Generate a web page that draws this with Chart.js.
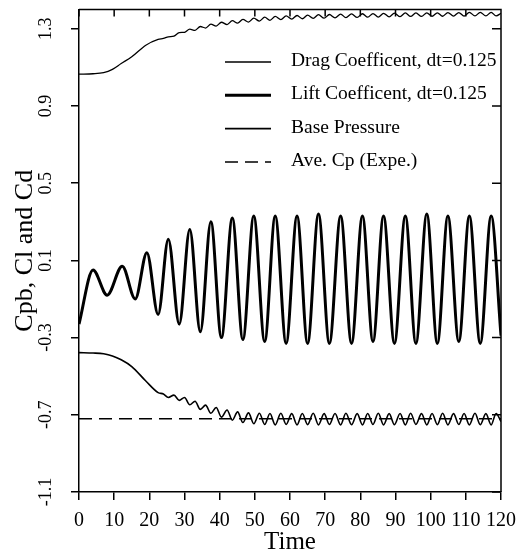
<!DOCTYPE html>
<html>
<head>
<meta charset="utf-8">
<title>Cpb, Cl and Cd</title>
<script src="https://cdn.jsdelivr.net/npm/chart.js@4.4.1/dist/chart.umd.min.js"></script>
<style>
    body { margin: 0; background: #fff; }
    #wrap { width: 525px; height: 555px; position: relative; }
</style>
</head>
<body>
<div id="wrap"><canvas id="forceChart"></canvas></div>
<script>
// ===== DATA =====
var seriesNames = ['Drag Coefficent, dt=0.125', 'Lift Coefficent, dt=0.125', 'Base Pressure', 'Ave. Cp (Expe.)'];

var xTickValues = [0, 10, 20, 30, 40, 50, 60, 70, 80, 90, 100, 110, 120];
var yTickValues = [-1.1, -0.7, -0.3, 0.1, 0.5, 0.9, 1.3];

// time samples used for drag + base pressure (extrema of the small wiggles)
var fineTime = [0, 4, 7, 9.5, 12, 15, 19, 22.5,
    24, 25.4, 27, 28.5, 30, 31.5, 33, 34.5, 36, 37.5,
    39, 40.5, 42.1, 43.6, 45.1, 46.6, 48.2, 49.7, 51.3, 52.8,
    54.3, 55.8, 57.4, 58.9, 60.5, 62.0, 63.5, 65.0, 66.6, 68.1,
    69.7, 71.2, 72.8, 74.4, 75.9, 77.5, 79.1, 80.6, 82.1, 83.6,
    85.1, 86.6, 88.2, 89.7, 91.3, 92.8, 94.3, 95.8, 97.4, 98.9,
    100.4, 101.9, 103.4, 104.9, 106.5, 108.0, 109.5, 111.0, 112.6, 114.1,
    115.7, 117.2, 118.6, 120];

var dragValue = [1.065, 1.067, 1.073, 1.09, 1.12, 1.155, 1.215, 1.245,
    1.250, 1.258, 1.262, 1.280, 1.282, 1.298, 1.292, 1.312, 1.304, 1.324,
    1.314, 1.334, 1.322, 1.342, 1.329, 1.349, 1.335, 1.355, 1.340, 1.360,
    1.344, 1.364, 1.348, 1.367, 1.350, 1.369, 1.352, 1.371, 1.354, 1.373,
    1.355, 1.374, 1.357, 1.376, 1.358, 1.377, 1.359, 1.378, 1.360, 1.379,
    1.361, 1.380, 1.362, 1.381, 1.363, 1.382, 1.364, 1.382, 1.364, 1.383,
    1.365, 1.383, 1.365, 1.384, 1.366, 1.384, 1.366, 1.385, 1.367, 1.385,
    1.367, 1.385, 1.367, 1.380];

var baseValue = [-0.378, -0.380, -0.384, -0.395, -0.415, -0.450, -0.525, -0.585,
    -0.592, -0.610, -0.598, -0.625, -0.610, -0.648, -0.630, -0.672, -0.650, -0.692,
    -0.662, -0.712, -0.675, -0.728, -0.685, -0.740, -0.690, -0.746, -0.692, -0.750,
    -0.693, -0.752, -0.692, -0.750, -0.694, -0.752, -0.693, -0.751, -0.692, -0.752,
    -0.694, -0.750, -0.693, -0.752, -0.692, -0.751, -0.694, -0.752, -0.693, -0.750,
    -0.692, -0.752, -0.694, -0.751, -0.693, -0.752, -0.692, -0.750, -0.694, -0.752,
    -0.693, -0.751, -0.692, -0.752, -0.694, -0.750, -0.693, -0.752, -0.692, -0.751,
    -0.694, -0.752, -0.693, -0.735];

// lift coefficient: peaks and troughs
var liftTime = [0, 4, 8, 12.3, 16, 19.3, 22.5, 25.4, 28.5, 31.5, 34.5, 37.5,
    40.5, 43.6, 46.6, 49.7, 52.8, 55.8, 58.9, 62.0, 65.0, 68.1, 71.2, 74.4,
    77.5, 80.6, 83.6, 86.6, 89.7, 92.8, 95.8, 98.9, 101.9, 104.9, 108.0, 111.0,
    114.1, 117.2, 120];
var liftValue = [-0.23, 0.05, -0.08, 0.07, -0.10, 0.14, -0.18, 0.21, -0.23, 0.26, -0.27, 0.30,
    -0.30, 0.32, -0.31, 0.33, -0.32, 0.33, -0.33, 0.33, -0.33, 0.34, -0.33, 0.33,
    -0.33, 0.33, -0.32, 0.33, -0.33, 0.33, -0.33, 0.34, -0.33, 0.33, -0.32, 0.33,
    -0.33, 0.33, -0.29];

// experimental average base pressure
var aveTime = [0, 120];
var aveValue = [-0.72, -0.72];

var SERIF = '"Liberation Serif", "Times New Roman", serif';

function toPoints(xs, ys) {
    var pts = [];
    for (var i = 0; i < xs.length; i++) {
        pts.push({ x: xs[i], y: ys[i] });
    }
    return pts;
}

// ===== PLUGIN: top/right frame, inward ticks, rotated y labels =====
var framePlugin = {
    id: 'frame',
    afterDraw: function(chart) {
        var ctx = chart.ctx;
        var a = chart.chartArea;
        var xs = chart.scales.x;
        var ys = chart.scales.y;
        ctx.save();
        ctx.strokeStyle = '#000';
        ctx.lineWidth = 1.5;
        ctx.beginPath();
        ctx.moveTo(a.left, a.top);
        ctx.lineTo(a.right, a.top);
        ctx.lineTo(a.right, a.bottom);
        for (var i = 0; i < xTickValues.length; i++) {
            var px = xs.getPixelForValue(xTickValues[i]);
            ctx.moveTo(px, a.top);
            ctx.lineTo(px, a.top + 7);
        }
        for (var j = 0; j < yTickValues.length; j++) {
            var py = ys.getPixelForValue(yTickValues[j]);
            ctx.moveTo(a.right, py);
            ctx.lineTo(a.right - 9, py);
        }
        ctx.stroke();

        ctx.fillStyle = '#000';
        ctx.font = '18px ' + SERIF;
        ctx.textAlign = 'center';
        ctx.textBaseline = 'middle';
        for (var k = 0; k < yTickValues.length; k++) {
            ctx.save();
            ctx.translate(46, ys.getPixelForValue(yTickValues[k]));
            ctx.rotate(-Math.PI / 2);
            ctx.fillText(yTickValues[k].toFixed(1), 0, 0);
            ctx.restore();
        }
        ctx.restore();
    }
};

// ===== PLUGIN: legend inside the plot =====
var legendPlugin = {
    id: 'insideLegend',
    afterDraw: function(chart) {
        var ctx = chart.ctx;
        ctx.save();
        ctx.font = '19.5px ' + SERIF;
        ctx.fillStyle = '#000';
        ctx.textAlign = 'left';
        ctx.textBaseline = 'middle';
        for (var i = 0; i < seriesNames.length; i++) {
            var ds = chart.data.datasets[i];
            var rowY = 62 + i * 33.3;
            ctx.strokeStyle = '#000';
            ctx.lineWidth = ds.borderWidth;
            ctx.setLineDash(ds.borderDash || []);
            ctx.beginPath();
            ctx.moveTo(225, rowY);
            ctx.lineTo(271, rowY);
            ctx.stroke();
            ctx.setLineDash([]);
            ctx.fillText(ds.label, 291, rowY - 1);
        }
        ctx.restore();
    }
};

// ===== CHART =====
var ctx = document.getElementById('forceChart').getContext('2d');
window.forceChart = new Chart(ctx, {
    type: 'line',
    data: {
        datasets: [{
            label: seriesNames[0],
            data: toPoints(fineTime, dragValue),
            borderColor: '#000',
            borderWidth: 1.3,
            pointRadius: 0,
            cubicInterpolationMode: 'monotone'
        }, {
            label: seriesNames[1],
            data: toPoints(liftTime, liftValue),
            borderColor: '#000',
            borderWidth: 3,
            pointRadius: 0,
            cubicInterpolationMode: 'monotone'
        }, {
            label: seriesNames[2],
            data: toPoints(fineTime, baseValue),
            borderColor: '#000',
            borderWidth: 1.6,
            pointRadius: 0,
            cubicInterpolationMode: 'monotone'
        }, {
            label: seriesNames[3],
            data: toPoints(aveTime, aveValue),
            borderColor: '#000',
            borderWidth: 1.5,
            borderDash: [13, 7],
            pointRadius: 0
        }, {
            // white streak seen along the centre of the lift curve
            label: 'lift overlay',
            data: toPoints(liftTime, liftValue),
            borderColor: '#fff',
            borderWidth: 1.1,
            borderDash: [7, 9],
            pointRadius: 0,
            cubicInterpolationMode: 'monotone'
        }]
    },
    options: {
        responsive: true,
        maintainAspectRatio: false,
        animation: false,
        layout: { padding: { top: 9.5, right: 19, left: 0, bottom: 0 } },
        plugins: {
            legend: { display: false },
            tooltip: { enabled: false }
        },
        scales: {
            x: {
                type: 'linear',
                min: 0,
                max: 120,
                afterBuildTicks: function(scale) {
                    scale.ticks = xTickValues.map(function(v) { return { value: v }; });
                },
                afterFit: function(scale) { scale.height = 63; },
                border: { display: true, color: '#000', width: 1.5 },
                grid: { drawOnChartArea: false, drawTicks: true, tickLength: 8, color: '#000', tickColor: '#000', lineWidth: 1.5, tickWidth: 1.5 },
                ticks: {
                    color: '#000',
                    font: { family: SERIF, size: 20 },
                    padding: 9,
                    maxRotation: 0,
                    autoSkip: false
                },
                title: {
                    display: true,
                    text: 'Time',
                    color: '#000',
                    font: { family: SERIF, size: 25, lineHeight: 1 },
                    padding: { top: 0, bottom: 0 }
                }
            },
            y: {
                type: 'linear',
                min: -1.1,
                max: 1.4,
                afterBuildTicks: function(scale) {
                    scale.ticks = yTickValues.map(function(v) { return { value: v }; });
                },
                afterFit: function(scale) { scale.width = 79; },
                border: { display: true, color: '#000', width: 1.5 },
                grid: { drawOnChartArea: false, drawTicks: true, tickLength: 8, color: '#000', tickColor: '#000', lineWidth: 1.5, tickWidth: 1.5 },
                ticks: { display: false },
                title: {
                    display: true,
                    text: 'Cpb, Cl and Cd',
                    color: '#000',
                    font: { family: SERIF, size: 26, lineHeight: 1 },
                    padding: { top: 12, bottom: 0 }
                }
            }
        }
    },
    plugins: [framePlugin, legendPlugin]
});
</script>
</body>
</html>
